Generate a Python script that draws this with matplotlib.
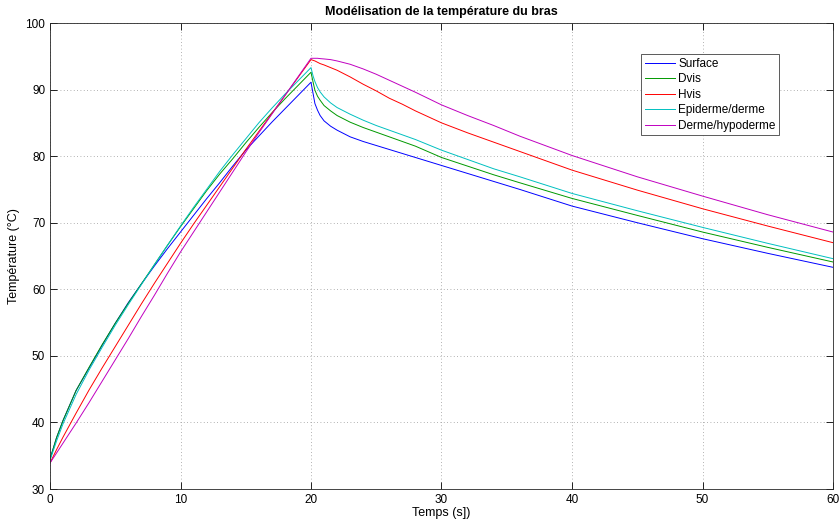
import matplotlib
matplotlib.use("Agg")
import matplotlib.pyplot as plt

plt.rcParams['font.family'] = ['Liberation Sans', 'DejaVu Sans']

# --- data ---
t_rise = [0, 0.5, 1, 2, 3, 4, 5, 6, 7, 8, 9, 10, 11, 12, 13, 14, 15, 16, 17, 18, 19, 20]
surface_rise = [34.5, 37.7, 40.3, 44.8, 48.2, 51.6, 54.9, 58.0, 60.8, 63.5, 66.1, 68.6, 71.1, 73.6, 76.0, 78.5, 80.9, 83.0, 85.1, 87.1, 89.1, 91.1]
dvis_rise = [34.5, 37.7, 40.3, 44.8, 48.3, 51.7, 54.9, 57.9, 60.8, 63.7, 66.6, 69.4, 72.1, 74.8, 77.3, 79.6, 82.0, 84.3, 86.5, 88.6, 90.6, 92.6]
hvis_rise = [33.9, 35.9, 37.8, 41.4, 44.9, 48.2, 51.4, 54.6, 57.8, 60.9, 63.9, 66.9, 69.8, 72.6, 75.4, 78.2, 81.0, 83.7, 86.4, 89.1, 91.8, 94.5]
epi_rise = [34.3, 37.2, 39.8, 44.2, 47.9, 51.3, 54.6, 57.7, 60.7, 63.7, 66.6, 69.5, 72.3, 75.0, 77.7, 80.2, 82.6, 85.0, 87.2, 89.3, 91.3, 93.3]
derme_rise = [33.9, 35.4, 36.9, 39.9, 43.0, 46.2, 49.4, 52.6, 55.9, 59.1, 62.4, 65.6, 68.6, 71.6, 74.6, 77.6, 80.6, 83.5, 86.3, 89.1, 91.9, 94.7]

t_fall = [20.15, 20.3, 20.5, 20.7, 21, 21.5, 22, 23, 24, 25, 26, 27, 28, 30, 32, 34, 36, 40, 45, 50, 55, 60]
surface_fall = [89.5, 87.9, 86.9, 86.1, 85.3, 84.5, 83.9, 82.9, 82.2, 81.6, 81.0, 80.4, 79.8, 78.6, 77.4, 76.2, 75.0, 72.5, 70.0, 67.6, 65.4, 63.3]
dvis_fall = [91.2, 89.9, 89.0, 88.4, 87.6, 86.8, 86.1, 85.1, 84.3, 83.6, 82.9, 82.2, 81.5, 79.8, 78.5, 77.2, 76.0, 73.65, 71.1, 68.6, 66.3, 64.1]
hvis_fall = [94.4, 94.3, 94.1, 93.9, 93.7, 93.3, 92.9, 91.9, 90.8, 89.8, 88.7, 87.8, 86.8, 85.0, 83.5, 82.1, 80.7, 77.9, 74.9, 72.1, 69.5, 67.0]
epi_fall = [92.1, 91.2, 90.3, 89.65, 88.9, 88.0, 87.3, 86.3, 85.4, 84.6, 83.9, 83.2, 82.5, 80.9, 79.5, 78.1, 76.9, 74.4, 71.8, 69.3, 66.9, 64.6]
derme_fall = [94.7, 94.7, 94.7, 94.65, 94.6, 94.5, 94.3, 93.8, 93.1, 92.3, 91.4, 90.5, 89.6, 87.7, 86.1, 84.6, 83.0, 80.1, 76.9, 74.0, 71.2, 68.6]

labels = ['Surface', 'Dvis', 'Hvis', 'Epiderme/derme', 'Derme/hypoderme']
colors = ['#0000ff', '#009900', '#ff0000', '#00c0c0', '#c000c0']

series = [
    (surface_rise, surface_fall),
    (dvis_rise, dvis_fall),
    (hvis_rise, hvis_fall),
    (epi_rise, epi_fall),
    (derme_rise, derme_fall),
]

fig = plt.figure(figsize=(8.4, 5.21), dpi=100)
ax = fig.add_axes([50/840, 1-489/521, 783/840, 466/521])

t_all = t_rise + t_fall
for (rise, fall), lab, col in zip(series, labels, colors):
    ax.plot(t_all, rise + fall, color=col, lw=0.7, label=lab)

ax.set_xlim(0, 60)
ax.set_ylim(30, 100)
ax.set_xticks(range(0, 61, 10))
ax.set_yticks(range(30, 101, 10))
ax.grid(True, color='#999999', linestyle=(0, (1, 3)), linewidth=0.6)
ax.tick_params(direction='in', top=True, right=True, length=5, labelsize=8.5, width=0.6)
for s in ax.spines.values():
    s.set_linewidth(0.6)
    s.set_color('#262626')

ax.set_title('Modélisation de la température du bras', fontsize=9, fontweight='bold', pad=6)
ax.set_xlabel('Temps (s])', fontsize=9, labelpad=1)
ax.set_ylabel('Température (°C)', fontsize=9, labelpad=4)

leg = ax.legend(loc='upper right', bbox_to_anchor=(0.931, 0.933), fontsize=8.5,
                fancybox=False, framealpha=1, edgecolor='#404040',
                handlelength=2.5, handletextpad=0.3, borderpad=0.3,
                labelspacing=0.3, borderaxespad=0)
leg.get_frame().set_linewidth(0.6)

fig.savefig('out.png', dpi=100)
